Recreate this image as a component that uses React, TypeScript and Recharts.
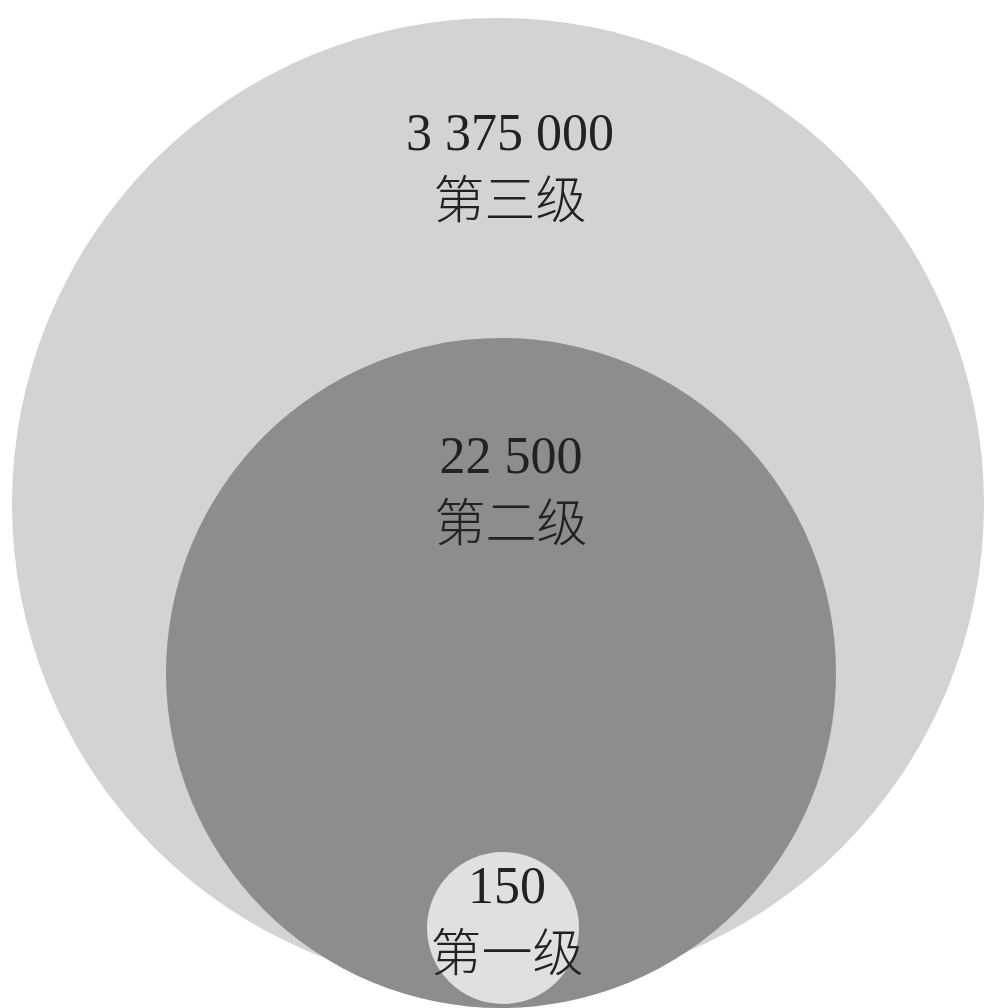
import { ScatterChart, Scatter, XAxis, YAxis } from "recharts";

const W = 985;
const H = 1008;

// levels, largest first so the smaller bubbles are painted on top
const levels = ["第三级", "第二级", "第一级"];
const counts = [3375000, 22500, 150];

// bubble layout in chart units (x to the right, y downwards)
const bubbleX = [498, 501, 503];
const bubbleY = [504, 673, 928];
const bubbleR = [486, 335, 76];
const labelX = [510, 511, 507];
const labelY = [132, 455, 885];

const fills = ["#d3d3d3", "#8e8d8e", "#e0e0e0"];

const bubbles = levels.map((name, i) => ({
  name,
  count: counts[i],
  x: bubbleX[i],
  y: bubbleY[i],
  r: bubbleR[i],
  fill: fills[i],
}));

const labels = levels.map((name, i) => ({
  name,
  count: counts[i],
  x: labelX[i],
  y: labelY[i],
}));

// chart units map 1:1 onto pixels here, but keep the factor explicit
const k = W / W;

const formatCount = (v: number) =>
  String(v).replace(/\B(?=(\d{3})+(?!\d))/g, " ");

const BubbleShape = (props: any) => {
  const { cx, cy, payload } = props;
  return <circle cx={cx} cy={cy} r={payload.r * k} fill={payload.fill} />;
};

const LabelShape = (props: any) => {
  const { cx, cy, payload } = props;
  return (
    <g>
      <text
        x={cx}
        y={cy}
        textAnchor="middle"
        dominantBaseline="central"
        fontFamily="'Liberation Serif', 'Times New Roman', serif"
        fontSize={52}
        fill="#222"
      >
        {formatCount(payload.count)}
      </text>
      <text
        x={cx}
        y={cy + 64}
        textAnchor="middle"
        dominantBaseline="central"
        fontFamily="'Noto Sans CJK SC', sans-serif"
        fontSize={51}
        fontWeight={300}
        fill="#222"
      >
        {payload.name}
      </text>
    </g>
  );
};

export default function App() {
  return (
    <div style={{ position: "absolute", left: 0, top: 0, width: W, height: H, background: "#fff" }}>
      <ScatterChart width={W} height={H} margin={{ top: 0, right: 0, bottom: 0, left: 0 }}>
        <XAxis type="number" dataKey="x" domain={[0, W]} hide />
        <YAxis type="number" dataKey="y" domain={[0, H]} reversed hide />
        <Scatter data={bubbles} shape={BubbleShape} isAnimationActive={false} />
        <Scatter data={labels} shape={LabelShape} isAnimationActive={false} />
      </ScatterChart>
    </div>
  );
}
